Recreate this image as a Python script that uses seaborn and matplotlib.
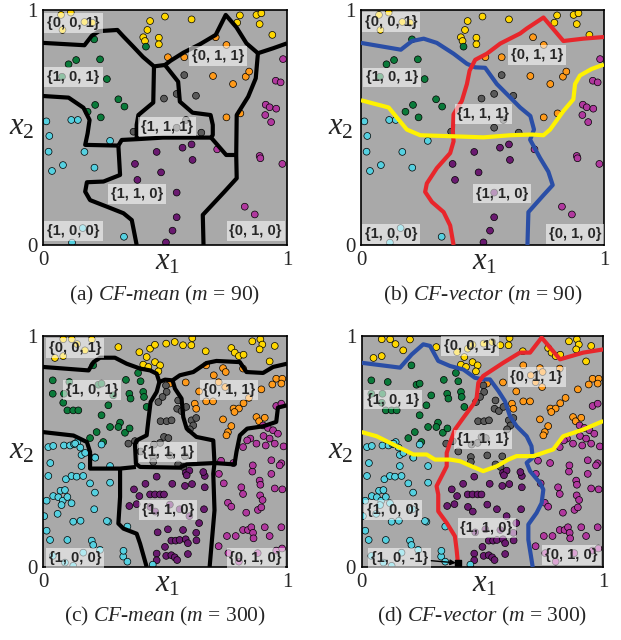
import pandas as pd
import matplotlib
matplotlib.use("Agg")
import matplotlib.pyplot as plt
import seaborn as sns

sns.set_style("white")
plt.rcParams["font.family"] = ["Liberation Serif", "DejaVu Serif"]
plt.rcParams["mathtext.fontset"] = "custom"
plt.rcParams["mathtext.rm"] = "Liberation Serif"
plt.rcParams["mathtext.it"] = "Liberation Serif:italic"

BG = "#a9a9a9"
COLORS = {"001": "#ffd700", "011": "#ff9a1a", "101": "#0a7a3a", "111": "#5a5a5a",
          "110": "#6a1a70", "010": "#b0389e", "100": "#55d0e0", "10-1": "#000000"}

# ---- m = 90 samples (shared by panels a and b)
m90_001 = [(0.074, 0.979), (0.114, 0.989), (0.080, 0.915), (0.170, 0.949), (0.202, 0.946),
           (0.439, 0.953), (0.428, 0.915), (0.411, 0.884), (0.418, 0.868), (0.475, 0.882),
           (0.475, 0.854), (0.500, 0.972), (0.609, 0.960), (0.807, 0.977), (0.875, 0.979),
           (0.895, 0.986), (0.796, 0.946), (0.888, 0.940), (0.940, 0.894)]
m90_011 = [(0.512, 0.799), (0.579, 0.799), (0.708, 0.884), (0.752, 0.851), (0.831, 0.716),
           (0.845, 0.738), (0.779, 0.685), (0.752, 0.543), (0.809, 0.560), (0.697, 0.719)]
m90_101 = [(0.210, 0.875), (0.422, 0.844), (0.105, 0.769), (0.136, 0.787), (0.234, 0.790),
           (0.078, 0.716), (0.262, 0.706), (0.309, 0.620), (0.334, 0.589), (0.214, 0.596),
           (0.183, 0.567), (0.237, 0.543)]
m90_111 = [(0.579, 0.723), (0.496, 0.623), (0.548, 0.643), (0.627, 0.635), (0.586, 0.532),
           (0.548, 0.499), (0.371, 0.482), (0.649, 0.478)]
m90_110 = [(0.572, 0.414), (0.609, 0.428), (0.466, 0.396), (0.613, 0.362), (0.377, 0.345),
           (0.484, 0.309), (0.387, 0.277), (0.548, 0.223), (0.548, 0.118), (0.531, 0.061),
           (0.504, 0.011)]
m90_010 = [(0.984, 0.791), (0.954, 0.699), (0.974, 0.692), (0.913, 0.597), (0.929, 0.586),
           (0.956, 0.580), (0.911, 0.553), (0.935, 0.523), (0.714, 0.407), (0.888, 0.379),
           (0.891, 0.369), (0.981, 0.345), (0.827, 0.163), (0.868, 0.130)]
m90_100 = [(0.014, 0.526), (0.116, 0.532), (0.143, 0.532), (0.026, 0.464), (0.275, 0.443),
           (0.023, 0.397), (0.170, 0.396), (0.082, 0.340), (0.211, 0.329), (0.037, 0.315),
           (0.163, 0.072), (0.332, 0.035), (0.119, 0.010)]

# ---- m = 300 samples (shared by panels c and d)
m300_001 = [(0.083, 0.986), (0.118, 0.986), (0.049, 0.905), (0.083, 0.913), (0.172, 0.938),
            (0.309, 0.952), (0.439, 0.945), (0.459, 0.962), (0.425, 0.909), (0.459, 0.887),
            (0.480, 0.873), (0.411, 0.876), (0.432, 0.866), (0.473, 0.847), (0.505, 0.967),
            (0.540, 0.974), (0.574, 0.960), (0.608, 0.960), (0.612, 0.991), (0.667, 0.934),
            (0.772, 0.948), (0.786, 0.928), (0.803, 0.913), (0.822, 0.919), (0.858, 0.977),
            (0.891, 0.986), (0.899, 0.963), (0.888, 0.942), (0.950, 0.957), (0.929, 0.890),
            (0.140, 0.965), (0.200, 0.985), (0.395, 0.930)]
m300_011 = [(0.669, 0.873), (0.738, 0.861), (0.749, 0.844), (0.820, 0.859), (0.519, 0.794),
            (0.585, 0.799), (0.956, 0.815), (0.981, 0.815), (0.977, 0.794), (0.895, 0.769),
            (0.747, 0.779), (0.844, 0.732), (0.669, 0.717), (0.697, 0.717), (0.622, 0.707),
            (0.628, 0.685), (0.781, 0.686), (0.803, 0.686), (0.785, 0.671), (0.822, 0.709),
            (0.738, 0.639), (0.772, 0.610), (0.758, 0.584), (0.875, 0.649), (0.886, 0.631),
            (0.909, 0.646), (0.752, 0.570), (0.640, 0.760), (0.700, 0.830), (0.720, 0.800),
            (0.940, 0.790)]
m300_101 = [(0.206, 0.873), (0.040, 0.808), (0.040, 0.750), (0.086, 0.750), (0.083, 0.711),
            (0.100, 0.678), (0.124, 0.678), (0.145, 0.678), (0.108, 0.801), (0.227, 0.789),
            (0.240, 0.794), (0.288, 0.743), (0.268, 0.700), (0.240, 0.657), (0.316, 0.625),
            (0.309, 0.606), (0.275, 0.606), (0.336, 0.581), (0.220, 0.584), (0.247, 0.541),
            (0.193, 0.558), (0.354, 0.750), (0.359, 0.729), (0.411, 0.758), (0.414, 0.736),
            (0.400, 0.804), (0.425, 0.693), (0.355, 0.600), (0.390, 0.840), (0.340, 0.810)]
m300_111 = [(0.504, 0.786), (0.507, 0.758), (0.490, 0.736), (0.473, 0.714), (0.554, 0.721),
            (0.550, 0.685), (0.568, 0.675), (0.482, 0.631), (0.507, 0.631), (0.527, 0.635),
            (0.496, 0.563), (0.514, 0.558), (0.480, 0.537), (0.609, 0.635), (0.616, 0.613),
            (0.602, 0.596), (0.377, 0.545), (0.350, 0.534), (0.452, 0.476), (0.520, 0.483),
            (0.582, 0.479), (0.452, 0.455), (0.554, 0.444), (0.575, 0.433), (0.587, 0.693),
            (0.628, 0.645), (0.455, 0.530), (0.400, 0.500)]
m300_110 = [(0.585, 0.408), (0.600, 0.417), (0.663, 0.394), (0.611, 0.359), (0.582, 0.351),
            (0.663, 0.345), (0.512, 0.163), (0.574, 0.160), (0.628, 0.148), (0.526, 0.114),
            (0.544, 0.114), (0.560, 0.117), (0.585, 0.120), (0.594, 0.103), (0.505, 0.048),
            (0.526, 0.051), (0.540, 0.042), (0.594, 0.056), (0.466, 0.391), (0.373, 0.336),
            (0.395, 0.307), (0.439, 0.314), (0.459, 0.314), (0.480, 0.314), (0.496, 0.314),
            (0.354, 0.264), (0.384, 0.272), (0.589, 0.397), (0.657, 0.411), (0.629, 0.115),
            (0.500, 0.087), (0.466, 0.058), (0.466, 0.029), (0.440, 0.260), (0.460, 0.240),
            (0.520, 0.270), (0.560, 0.250), (0.600, 0.220), (0.660, 0.250), (0.640, 0.190),
            (0.470, 0.150), (0.550, 0.030), (0.420, 0.360), (0.530, 0.360)]
m300_010 = [(0.721, 0.403), (0.741, 0.362), (0.813, 0.345), (0.820, 0.316), (0.858, 0.413),
            (0.888, 0.374), (0.891, 0.356), (0.936, 0.403), (0.977, 0.449), (0.981, 0.336),
            (0.758, 0.278), (0.772, 0.261), (0.833, 0.235), (0.881, 0.247), (0.895, 0.258),
            (0.820, 0.160), (0.840, 0.160), (0.854, 0.172), (0.861, 0.148), (0.863, 0.124),
            (0.909, 0.172), (0.929, 0.134), (0.977, 0.172), (0.754, 0.134), (0.790, 0.134),
            (0.956, 0.071), (0.803, 0.023), (0.956, 0.697), (0.977, 0.707), (0.902, 0.613),
            (0.922, 0.602), (0.943, 0.592), (0.963, 0.577), (0.904, 0.567), (0.929, 0.556),
            (0.950, 0.534), (0.913, 0.526), (0.850, 0.556), (0.820, 0.519), (0.837, 0.548),
            (0.875, 0.534), (0.986, 0.522), (0.936, 0.462), (0.970, 0.440), (0.890, 0.310),
            (0.900, 0.290), (0.950, 0.340), (0.860, 0.440), (0.730, 0.460), (0.780, 0.450),
            (0.720, 0.090), (0.760, 0.060), (0.880, 0.060), (0.980, 0.080)]
m300_100 = [(0.158, 0.485), (0.213, 0.475), (0.158, 0.437), (0.275, 0.437), (0.022, 0.394),
            (0.094, 0.380), (0.117, 0.394), (0.138, 0.391), (0.165, 0.394), (0.193, 0.362),
            (0.275, 0.365), (0.072, 0.330), (0.090, 0.333), (0.042, 0.307), (0.063, 0.302),
            (0.015, 0.287), (0.081, 0.287), (0.100, 0.303), (0.117, 0.276), (0.076, 0.268),
            (0.213, 0.322), (0.124, 0.196), (0.154, 0.200), (0.268, 0.196), (0.015, 0.157),
            (0.029, 0.117), (0.100, 0.117), (0.200, 0.114), (0.206, 0.095), (0.346, 0.175),
            (0.329, 0.045), (0.346, 0.023), (0.124, 0.005), (0.040, 0.048), (0.165, 0.062),
            (0.234, 0.074), (0.090, 0.019), (0.022, 0.519), (0.042, 0.524), (0.086, 0.526),
            (0.111, 0.526), (0.127, 0.532), (0.141, 0.541), (0.132, 0.534), (0.153, 0.517),
            (0.173, 0.494), (0.214, 0.473), (0.262, 0.199), (0.030, 0.450), (0.330, 0.070),
            (0.450, 0.010), (0.240, 0.530), (0.060, 0.230), (0.210, 0.250), (0.005, 0.220)]
m300_10m1 = [(0.400, 0.018)]

# ---- decision boundaries, CF-mean (m = 90)
a_top = [(0, 0.86), (0.17, 0.85), (0.20, 0.89), (0.23, 0.91), (0.305, 0.915), (0.33, 0.887),
         (0.37, 0.844), (0.41, 0.80), (0.455, 0.76), (0.50, 0.766), (0.523, 0.784),
         (0.575, 0.818), (0.643, 0.854), (0.708, 0.894), (0.749, 0.979), (0.793, 0.926),
         (0.834, 0.858), (0.881, 0.816), (0.943, 0.837), (1.0, 0.858)]
a_mid_left = [(0.455, 0.76), (0.452, 0.606), (0.391, 0.553), (0.384, 0.511), (0.384, 0.454)]
a_mid_right = [(0.50, 0.766), (0.554, 0.695), (0.561, 0.610), (0.613, 0.563), (0.687, 0.553),
               (0.696, 0.511), (0.696, 0.468), (0.689, 0.457), (0.751, 0.383), (0.792, 0.383)]
a_under = [(0.689, 0.457), (0.492, 0.457), (0.398, 0.451), (0.323, 0.447), (0.309, 0.423)]
a_left = [(0, 0.634), (0.105, 0.627), (0.166, 0.584), (0.191, 0.532), (0.183, 0.475),
          (0.173, 0.426), (0.309, 0.423)]
a_low_left = [(0.309, 0.423), (0.316, 0.298), (0.248, 0.270), (0.180, 0.267), (0.173, 0.227),
              (0.193, 0.191), (0.262, 0.163), (0.330, 0.135), (0.364, 0.106), (0.384, 0.0)]
a_right = [(0.792, 0.383), (0.794, 0.553), (0.841, 0.631), (0.872, 0.709), (0.881, 0.816)]
a_low_right = [(0.792, 0.383), (0.794, 0.284), (0.744, 0.227), (0.655, 0.128), (0.658, 0.0)]

# ---- CF-vector (m = 90)
b_blue = [(0, 0.86), (0.164, 0.831), (0.210, 0.868), (0.258, 0.878), (0.312, 0.860),
          (0.381, 0.814), (0.436, 0.771), (0.470, 0.756), (0.511, 0.754), (0.559, 0.685),
          (0.614, 0.628), (0.655, 0.585), (0.697, 0.549), (0.712, 0.491), (0.696, 0.448),
          (0.737, 0.370), (0.771, 0.312), (0.789, 0.255), (0.751, 0.212), (0.689, 0.140),
          (0.685, 0.0)]
b_red = [(0.381, 0.0), (0.367, 0.083), (0.340, 0.140), (0.292, 0.183), (0.264, 0.226),
         (0.271, 0.262), (0.312, 0.327), (0.367, 0.391), (0.381, 0.441), (0.378, 0.484),
         (0.381, 0.556), (0.415, 0.613), (0.436, 0.685), (0.447, 0.742), (0.470, 0.788),
         (0.518, 0.814), (0.573, 0.857), (0.655, 0.900), (0.682, 0.921), (0.751, 0.968),
         (0.833, 0.868), (0.915, 0.878), (1.0, 0.885)]
b_yellow = [(0, 0.616), (0.114, 0.585), (0.148, 0.542), (0.189, 0.491), (0.244, 0.467),
            (0.367, 0.463), (0.504, 0.458), (0.614, 0.467), (0.703, 0.470), (0.751, 0.467),
            (0.778, 0.491), (0.833, 0.570), (0.874, 0.620), (0.881, 0.685), (0.901, 0.721),
            (0.949, 0.749), (1.0, 0.768)]

# ---- CF-mean (m = 300)
c_top = [(0, 0.866), (0.187, 0.851), (0.207, 0.887), (0.234, 0.906), (0.295, 0.906),
         (0.343, 0.880), (0.398, 0.859), (0.439, 0.851), (0.466, 0.837), (0.477, 0.801),
         (0.500, 0.811), (0.531, 0.808), (0.561, 0.830), (0.616, 0.844), (0.670, 0.883),
         (0.711, 0.892), (0.807, 0.887), (0.834, 0.844), (0.902, 0.840), (0.943, 0.866),
         (1.0, 0.880)]
c_mid_left = [(0.477, 0.801), (0.466, 0.758), (0.441, 0.714), (0.432, 0.635), (0.425, 0.570),
              (0.384, 0.548), (0.377, 0.531), (0.381, 0.447), (0.398, 0.433), (0.561, 0.430),
              (0.589, 0.444), (0.703, 0.450)]
c_mid_right = [(0.531, 0.808), (0.541, 0.772), (0.568, 0.729), (0.575, 0.649), (0.589, 0.599),
               (0.629, 0.563), (0.698, 0.548), (0.703, 0.450)]
c_right = [(0.703, 0.450), (0.785, 0.444), (0.793, 0.498), (0.807, 0.570), (0.837, 0.599),
           (0.902, 0.609), (0.956, 0.628), (0.963, 0.690), (1.0, 0.700)]
c_left = [(0, 0.584), (0.125, 0.569), (0.180, 0.541), (0.193, 0.498), (0.193, 0.426),
          (0.316, 0.426), (0.381, 0.433)]
c_low_left = [(0.316, 0.426), (0.316, 0.303), (0.309, 0.188), (0.330, 0.166), (0.384, 0.144),
              (0.398, 0.101), (0.425, 0.0)]
c_low_right = [(0.703, 0.450), (0.698, 0.404), (0.703, 0.245), (0.696, 0.159), (0.683, 0.0)]

# ---- CF-vector (m = 300)
d_blue = [(0, 0.884), (0.159, 0.863), (0.207, 0.920), (0.255, 0.964), (0.283, 0.957),
          (0.317, 0.892), (0.366, 0.870), (0.421, 0.855), (0.469, 0.819), (0.503, 0.812),
          (0.531, 0.812), (0.566, 0.762), (0.593, 0.718), (0.614, 0.653), (0.641, 0.610),
          (0.683, 0.566), (0.703, 0.523), (0.708, 0.473), (0.683, 0.451), (0.697, 0.415),
          (0.738, 0.364), (0.752, 0.335), (0.745, 0.277), (0.724, 0.234), (0.690, 0.184),
          (0.690, 0.118), (0.708, 0.0)]
d_red = [(0.400, 0.0), (0.393, 0.075), (0.386, 0.133), (0.352, 0.191), (0.317, 0.241),
         (0.317, 0.314), (0.310, 0.350), (0.331, 0.393), (0.352, 0.436), (0.352, 0.494),
         (0.366, 0.538), (0.386, 0.595), (0.421, 0.646), (0.462, 0.704), (0.476, 0.733),
         (0.483, 0.798), (0.503, 0.827), (0.586, 0.884), (0.655, 0.928), (0.697, 0.928),
         (0.745, 0.993), (0.821, 0.899), (0.917, 0.928), (1.0, 0.942)]
d_yellow = [(0, 0.584), (0.062, 0.566), (0.145, 0.523), (0.214, 0.487), (0.269, 0.487),
            (0.303, 0.465), (0.366, 0.465), (0.407, 0.458), (0.455, 0.436), (0.503, 0.415),
            (0.559, 0.436), (0.607, 0.465), (0.641, 0.480), (0.710, 0.480), (0.793, 0.509),
            (0.834, 0.566), (0.917, 0.595), (1.0, 0.632)]

# ---- region labels
a_labels = [("{0, 0, 1}", 0.125, 0.946), ("{0, 1, 1}", 0.718, 0.804), ("{1, 0, 1}", 0.125, 0.716),
            ("{1, 1, 1}", 0.507, 0.504), ("{1, 1, 0}", 0.387, 0.217), ("{1, 0, 0}", 0.125, 0.060),
            ("{0, 1, 0}", 0.872, 0.060)]
b_labels = [("{0, 0, 1}", 0.123, 0.950), ("{0, 1, 1}", 0.723, 0.807), ("{1, 0, 1}", 0.127, 0.713),
            ("{1, 1, 1}", 0.504, 0.556), ("{1, 1, 0}", 0.579, 0.219), ("{1, 0, 0}", 0.123, 0.047),
            ("{0, 1, 0}", 0.881, 0.047)]
c_labels = [("{0, 0, 1}", 0.132, 0.949), ("{1, 0, 1}", 0.200, 0.765), ("{0, 1, 1}", 0.763, 0.765),
            ("{1, 1, 1}", 0.514, 0.498), ("{1, 1, 0}", 0.514, 0.245), ("{1, 0, 0}", 0.132, 0.040),
            ("{0, 1, 0}", 0.872, 0.040)]
d_labels = [("{0, 0, 1}", 0.448, 0.957), ("{0, 1, 1}", 0.724, 0.824), ("{1, 0, 1}", 0.131, 0.725),
            ("{1, 1, 1}", 0.503, 0.552), ("{1, 0, 0}", 0.131, 0.246), ("{1, 1, 0}", 0.517, 0.169),
            ("{0, 1, 0}", 0.869, 0.053)]

captions = [r"(a) $\mathit{CF}$-$\mathit{mean}$ ($\mathit{m}$ = 90)",
            r"(b) $\mathit{CF}$-$\mathit{vector}$ ($\mathit{m}$ = 90)",
            r"(c) $\mathit{CF}$-$\mathit{mean}$ ($\mathit{m}$ = 300)",
            r"(d) $\mathit{CF}$-$\mathit{vector}$ ($\mathit{m}$ = 300)"]

LABEL_BOX = dict(boxstyle="square,pad=0.2", fc="white", ec="none", alpha=0.55)


def frame(groups):
    rows = []
    for cls, pts in groups.items():
        for x, y in pts:
            rows.append((x, y, cls))
    return pd.DataFrame(rows, columns=["x", "y", "cls"])


df90 = frame({"001": m90_001, "011": m90_011, "101": m90_101, "111": m90_111,
              "110": m90_110, "010": m90_010, "100": m90_100})
df300 = frame({"001": m300_001, "011": m300_011, "101": m300_101, "111": m300_111,
               "110": m300_110, "010": m300_010, "100": m300_100})


def draw(ax, df, lines, labels, caption):
    ax.set_facecolor(BG)
    sns.scatterplot(data=df, x="x", y="y", hue="cls", palette=COLORS, s=24,
                    edgecolor="black", linewidth=0.5, legend=False, ax=ax, zorder=2)
    for pts, col in lines:
        xs, ys = zip(*pts)
        ax.plot(xs, ys, color=col, lw=3.0, solid_capstyle="butt", zorder=3)
    for txt, x, y in labels:
        ax.text(x, y, txt, ha="center", va="center", fontsize=10.5, fontweight="bold",
                family="Liberation Sans", zorder=5, bbox=LABEL_BOX)
    ax.set_xlim(0, 1)
    ax.set_ylim(0, 1)
    ax.set_xticks([0, 1])
    ax.set_yticks([0, 1])
    ax.set_xticklabels(["0", "1"])
    ax.set_yticklabels(["0", "1"])
    ax.set_xticks([0.2, 0.4, 0.6, 0.8], minor=True)
    ax.set_yticks([0.2, 0.4, 0.6, 0.8], minor=True)
    ax.tick_params(which="both", direction="out", length=2.5, width=0.8, color="black",
                   labelsize=15, pad=1.5)
    for sp in ax.spines.values():
        sp.set_color("black")
        sp.set_linewidth(1.2)
    ax.set_xlabel("$x_1$", fontsize=22)
    ax.set_ylabel("$x_2$", fontsize=22, rotation=0)
    ax.xaxis.set_label_coords(0.51, -0.01)
    ax.yaxis.set_label_coords(-0.085, 0.44)
    ax.text(0.5, -0.215, caption, transform=ax.transAxes, ha="center", va="center",
            fontsize=15.5)


fig = plt.figure(figsize=(6.21, 6.4), dpi=100)
ax_a = fig.add_axes([0.0692, 0.6172, 0.3929, 0.3672])
ax_b = fig.add_axes([0.5813, 0.6172, 0.3913, 0.3672])
ax_c = fig.add_axes([0.0692, 0.1141, 0.3929, 0.3609])
ax_d = fig.add_axes([0.5824, 0.1141, 0.3890, 0.3609])

K = "black"
draw(ax_a, df90, [(a_top, K), (a_mid_left, K), (a_mid_right, K), (a_under, K), (a_left, K),
                  (a_low_left, K), (a_right, K), (a_low_right, K)], a_labels, captions[0])
draw(ax_b, df90, [(b_blue, "#2a4ea6"), (b_red, "#e8262b"), (b_yellow, "#fff200")],
     b_labels, captions[1])
draw(ax_c, df300, [(c_top, K), (c_mid_left, K), (c_mid_right, K), (c_right, K), (c_left, K),
                   (c_low_left, K), (c_low_right, K)], c_labels, captions[2])
draw(ax_d, df300, [(d_blue, "#2a4ea6"), (d_red, "#e8262b"), (d_yellow, "#fff200")],
     d_labels, captions[3])

mx, my = zip(*m300_10m1)
ax_d.scatter(mx, my, marker="s", s=22, color="black", zorder=4)
ax_d.annotate("{1, 0, -1}", xy=(mx[0] - 0.01, my[0]), xytext=(0.156, 0.039),
              ha="center", va="center", fontsize=10.5, fontweight="bold",
              family="Liberation Sans", zorder=5, bbox=LABEL_BOX,
              arrowprops=dict(arrowstyle="-|>", color="black", lw=1, shrinkA=0, shrinkB=0,
                              mutation_scale=8))

fig.savefig("out.png", dpi=100)
